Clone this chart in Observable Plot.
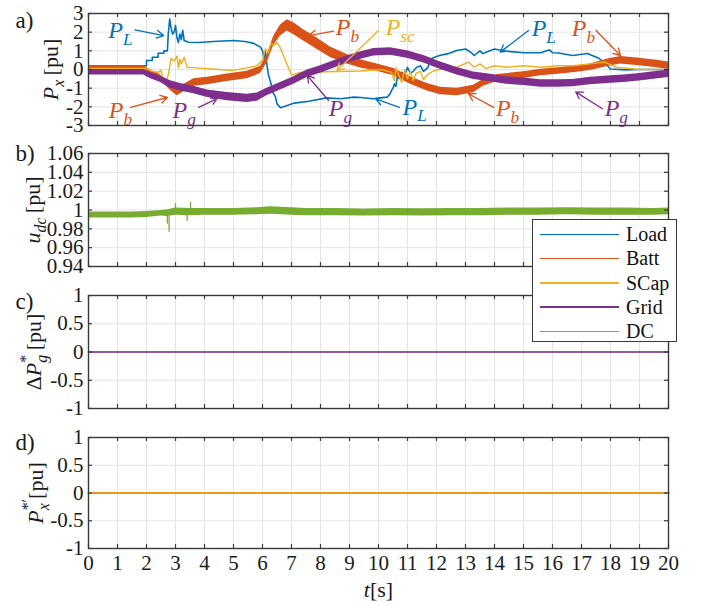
<!DOCTYPE html>
<html>
<head>
<meta charset="utf-8">
<script src="https://cdn.jsdelivr.net/npm/d3@7"></script>
<script src="https://cdn.jsdelivr.net/npm/@observablehq/plot@0.6"></script>
<style>
  html, body { margin: 0; padding: 0; background: #fff; }
  #fig { position: relative; width: 706px; height: 605px; background: #fff; overflow: hidden;
         font-family: "Liberation Serif", "Times New Roman", Tinos, "DejaVu Serif", serif; }
  #fig svg { position: absolute; left: 0; overflow: visible; }
  #fig svg text, #fig svg tspan { font-family: "Liberation Serif", "Times New Roman", Tinos, "DejaVu Serif", serif; }
  #legend { position: absolute; left: 532px; top: 219px; width: 145px; height: 123px;
            background: #fff; border: 1px solid #3a3a3a; box-sizing: border-box; padding-top: 2px; z-index: 5; }
  #legend .row { position: relative; height: 24.3px; }
  #legend .sw { position: absolute; left: 7px; top: 11.5px; width: 79px; height: 1.6px; }
  #legend .lb { position: absolute; left: 93px; top: 0; line-height: 24px; font-size: 20px; color: #111; }
</style>
</head>
<body>
<div id="fig"><div id="legend"></div></div>
<script>
// ---- series definitions -------------------------------------------------
const seriesNames = ["Load", "Batt", "SCap", "Grid", "DC"];
const seriesColors = ["#0072BD", "#D95319", "#EDB120", "#7E2F8E", "#77AC30"];
const color = Object.fromEntries(seriesNames.map((n, i) => [n, seriesColors[i]]));

// ---- axis ticks ---------------------------------------------------------
const xTicks = [0, 1, 2, 3, 4, 5, 6, 7, 8, 9, 10, 11, 12, 13, 14, 15, 16, 17, 18, 19, 20];
const yTicksA = [-3, -2, -1, 0, 1, 2, 3];
const yTicksB = [0.94, 0.96, 0.98, 1, 1.02, 1.04, 1.06];
const yTicksC = [-1, -0.5, 0, 0.5, 1];
const yTicksD = [-1, -0.5, 0, 0.5, 1];

// ---- a) powers [pu] -----------------------------------------------------
// load power P_L : [t, value]
const loadPts = [
  [0,0],[1.8,0],[1.8,0.2],[2.0,0.2],[2.0,0.48],[2.2,0.48],[2.2,0.66],[2.4,0.66],[2.4,0.87],
  [2.6,0.87],[2.6,1.0],[2.72,1.0],[2.75,1.9],[2.8,2.7],[2.85,2.2],[2.9,1.9],[2.95,2.0],
  [3.0,2.36],[3.05,1.7],[3.1,1.45],[3.15,1.9],[3.2,1.6],[3.25,2.1],[3.3,1.55],[3.45,1.46],
  [3.8,1.45],[4.3,1.5],[5.0,1.55],[5.4,1.5],[5.7,1.4],[5.93,1.2],[6.0,1.0],[6.05,0.6],
  [6.1,0.95],[6.15,0.3],[6.2,-0.25],[6.3,-0.8],[6.35,-1.2],[6.45,-1.48],[6.5,-1.84],
  [6.62,-2.05],[6.8,-1.95],[7.1,-1.8],[7.6,-1.7],[8.2,-1.52],[8.7,-1.57],[9.15,-1.48],
  [9.4,-1.5],[9.8,-1.57],[10.3,-1.48],[10.4,-1.3],[10.45,-1.12],[10.5,-1.0],[10.55,-0.77],
  [10.6,-0.9],[10.65,-0.4],[10.75,-0.5],[10.8,-0.15],[10.9,-0.3],[11.0,0.12],[11.1,-0.2],
  [11.2,-0.1],[11.3,0.1],[11.45,0.2],[11.55,-0.1],[11.7,0.1],[11.8,0.57],[12.1,0.75],
  [12.4,0.85],[12.7,1.02],[13.0,1.1],[13.2,0.9],[13.3,0.75],[13.5,1.0],[13.6,0.85],
  [13.75,0.95],[14.0,1.1],[14.4,0.98],[15.0,0.9],[15.6,0.9],[15.8,1.0],[15.9,1.05],
  [16.0,0.9],[16.2,0.88],[16.7,0.75],[17.2,0.86],[17.6,0.6],[17.8,0.35],[18.0,0.03],
  [18.5,-0.02],[19.0,0],[20,0]
];
// supercapacitor power P_sc : [t, value]
const scapPts = [
  [0,0.05],[2.0,0.05],[2.2,-0.1],[2.4,-0.15],[2.5,-0.05],[2.6,-0.68],[2.7,-0.5],[2.75,-0.3],
  [2.85,0.6],[2.95,0.45],[3.05,0.72],[3.1,0.1],[3.15,0.55],[3.2,0.3],[3.3,0.66],[3.4,0.12],
  [3.6,0.1],[4.5,0.0],[5.0,-0.05],[5.5,0.1],[5.8,0.2],[6.0,0.5],[6.1,1.1],[6.2,0.9],
  [6.3,1.4],[6.4,1.3],[6.5,1.45],[6.6,1.2],[7.0,-0.3],[7.3,-0.16],[8.2,-0.12],[9.4,-0.08],
  [10.1,0.0],[10.45,-0.15],[10.55,-0.6],[10.6,0.1],[10.7,-0.3],[10.8,-0.7],[10.9,0.0],
  [11.0,-0.5],[11.1,-0.1],[11.2,-0.6],[11.3,-0.2],[11.45,-0.1],[11.55,-0.55],[11.7,-0.25],
  [11.9,-0.08],[12.1,0.0],[12.7,0.12],[13.1,0.4],[13.3,0.12],[13.5,0.3],[13.7,0.05],
  [14.0,0.2],[14.4,0.12],[15.0,0.2],[15.6,0.12],[16.2,0.2],[16.7,0.2],[17.3,0.3],
  [17.8,0.4],[18.2,0.12],[19.0,0.0],[20,0.0]
];
// battery power P_b : [t, centre, half band width of the ripple]
const battPts = [
  [0,0.12,0.1],[1.9,0.12,0.1],[2.14,-0.15,0.12],[2.45,-0.4,0.14],[2.83,-0.95,0.18],
  [3.05,-1.2,0.2],[3.28,-1.0,0.2],[3.63,-0.7,0.2],[4.1,-0.62,0.2],[4.78,-0.44,0.2],
  [5.47,-0.3,0.2],[5.93,-0.02,0.2],[6.15,0.55,0.22],[6.39,1.55,0.25],[6.62,2.09,0.3],
  [6.85,2.36,0.3],[7.08,2.18,0.32],[7.43,1.82,0.3],[7.89,1.37,0.3],[8.34,0.92,0.28],
  [8.92,0.55,0.25],[9.38,0.3,0.22],[9.95,0.1,0.2],[10.53,-0.14,0.2],[11.1,-0.59,0.2],
  [11.68,-0.95,0.2],[12.14,-1.15,0.2],[12.71,-1.2,0.2],[13.28,-1.04,0.2],[13.6,-0.73,0.18],
  [14.1,-0.45,0.18],[15.0,-0.3,0.18],[15.6,-0.16,0.18],[16.2,-0.08,0.18],[16.7,0.0,0.18],
  [17.3,0.12,0.18],[17.9,0.36,0.2],[18.34,0.5,0.2],[19.0,0.4,0.2],[19.6,0.3,0.2],[20,0.2,0.2]
];
// grid power P_g : [t, centre, half band width of the ripple]
const gridPts = [
  [0,-0.15,0.15],[1.9,-0.15,0.15],[2.14,-0.33,0.16],[2.45,-0.5,0.17],[2.83,-0.8,0.2],
  [3.17,-0.95,0.2],[3.63,-1.1,0.2],[4.1,-1.3,0.2],[4.78,-1.45,0.22],[5.47,-1.55,0.22],
  [5.82,-1.48,0.22],[6.15,-1.2,0.2],[6.62,-0.9,0.2],[7.08,-0.59,0.2],[7.54,-0.23,0.2],
  [8.0,0.0,0.2],[8.69,0.4,0.2],[9.26,0.7,0.2],[9.84,0.92,0.2],[10.41,0.96,0.2],
  [10.99,0.8,0.2],[11.56,0.55,0.2],[12.14,0.2,0.2],[12.71,-0.09,0.2],[13.28,-0.33,0.2],
  [13.86,-0.45,0.2],[14.4,-0.59,0.2],[15.0,-0.66,0.2],[15.6,-0.75,0.2],[16.2,-0.75,0.2],
  [16.7,-0.73,0.2],[17.3,-0.62,0.2],[17.9,-0.55,0.2],[18.45,-0.5,0.2],[19.0,-0.41,0.2],
  [20,-0.23,0.2]
];

// ---- b) DC-link voltage [pu] : [t, lower, upper] ripple envelope -------
const dcPts = [
  [0,0.9915,0.998],[1.5,0.9915,0.998],[2.0,0.992,0.9985],[2.5,0.9935,0.9995],[2.7,0.993,1.0],
  [3.0,0.9945,1.002],[3.5,0.994,1.0015],[4.0,0.9945,1.0015],[5.0,0.9945,1.0015],
  [5.8,0.995,1.0025],[6.3,0.9955,1.0035],[7.0,0.9945,1.0025],[7.5,0.994,1.0015],
  [8.5,0.994,1.0015],[9.5,0.9935,1.001],[10.5,0.994,1.0015],[11.5,0.9935,1.0012],
  [12.5,0.994,1.0015],[13.5,0.994,1.0015],[14.5,0.9945,1.002],[15.5,0.9945,1.002],
  [16.5,0.995,1.0025],[17.5,0.9945,1.002],[18.5,0.9945,1.002],[19.5,0.9945,1.0015],[20,0.995,1.002]
];
// isolated voltage spikes : [t, lower, upper]
const dcSpikes = [[2.72,0.985,0.994],[2.78,0.9765,0.994],[3.0,0.998,1.0067],[3.4,0.988,0.995],[3.52,0.998,1.008]];

// ---- c) / d) reference corrections (zero throughout) --------------------
const zeroPts = [[0,0],[20,0]];

// ---- a) annotations: label, series, text position, arrow start -> end ---
const annotations = [
  {label:"P_L",  series:"Load", tx:1.1,  ty:2.1,  x1:1.6,   y1:2.12,  x2:2.59, y2:1.82},
  {label:"P_b",  series:"Batt", tx:1.1,  ty:-2.2, x1:1.45,  y1:-2.03, x2:2.72, y2:-1.5},
  {label:"P_g",  series:"Grid", tx:3.3,  ty:-2.2, x1:3.8,   y1:-2.03, x2:4.43, y2:-1.56},
  {label:"P_b",  series:"Batt", tx:8.93, ty:2.25, x1:8.45,  y1:2.05,  x2:7.6,  y2:1.82},
  {label:"P_sc", series:"SCap", tx:10.75,ty:2.25, x1:10.0,  y1:2.09,  x2:8.57, y2:-0.05},
  {label:"P_g",  series:"Grid", tx:8.69, ty:-2.1, x1:8.28,  y1:-1.66, x2:7.54, y2:-0.32},
  {label:"P_L",  series:"Load", tx:11.25,ty:-2.0, x1:10.72, y1:-2.03, x2:9.9,  y2:-1.57},
  {label:"P_L",  series:"Load", tx:15.7, ty:2.2,  x1:15.17, y1:2.09,  x2:14.2, y2:0.93},
  {label:"P_b",  series:"Batt", tx:17.07,ty:2.2,  x1:17.5,  y1:2.09,  x2:18.34,y2:0.75},
  {label:"P_b",  series:"Batt", tx:14.45,ty:-2.1, x1:13.97, y1:-2.03, x2:13.1, y2:-1.3},
  {label:"P_g",  series:"Grid", tx:18.2, ty:-2.1, x1:17.72, y1:-2.1,  x2:16.8, y2:-1.2}
];

// ---- math-style labels (italic symbols, sub/superscripts) ---------------
const RICH = {
  "P_L":  [["P","i"],["L","i sub"]],
  "P_b":  [["P","i"],["b","i sub"]],
  "P_g":  [["P","i"],["g","i sub"]],
  "P_sc": [["P","i"],["sc","i sub"]],
  "P_x [pu]":   [["P","i"],["x","i sub"],["\u2009[pu]",""]],
  "u_dc [pu]":  [["u","i"],["dc","i sub"],["\u2009[pu]",""]],
  "ΔP*_g [pu]": [["Δ",""],["P","i"],["*","sup"],["g","i sub stack"],["\u2009[pu]",""]],
  "P*'_x [pu]": [["P","i"],["*\u2032","sup"],["x","i sub stack"],["\u2009[pu]",""]],
  "t[s]": [["t","i"],["[s]",""]]
};

const SVGNS = "http://www.w3.org/2000/svg";
function richify(root) {
  root.querySelectorAll("text").forEach(el => {
    const spec = RICH[el.textContent];
    if (!spec) return;
    const fs = parseFloat(getComputedStyle(el).fontSize) || 20;
    while (el.firstChild) el.removeChild(el.firstChild);
    let shift = 0, prev = null;
    for (const [str, flags] of spec) {
      const ts = document.createElementNS(SVGNS, "tspan");
      const sub = flags.includes("sub"), sup = flags.includes("sup");
      const target = sub ? 0.28 * fs : sup ? -0.42 * fs : 0;
      if (target !== shift) ts.setAttribute("dy", (target - shift).toFixed(2));
      shift = target;
      if (sub || sup) ts.setAttribute("font-size", (0.72 * fs).toFixed(1));
      ts.setAttribute("font-style", flags.includes("i") ? "italic" : "normal");
      if (flags.includes("stack") && prev) ts.setAttribute("dx", (-prev.getComputedTextLength()).toFixed(2));
      ts.textContent = str;
      el.appendChild(ts);
      prev = ts;
    }
  });
}

// ---- panel builder --------------------------------------------------------
const frameC = "#3a3a3a", gridC = "#e3e3e3", textC = "#1a1a1a";
const innerW = 580;
const fig = document.getElementById("fig");

function panel({top, inner, mb = 5, yDomain, yTicks, marks, ylabel, ylabelDx, letter, letterDy, xLabels = false}) {
  const mt = 13;
  const svg = Plot.plot({
    width: 706, height: mt + inner + mb,
    marginLeft: 88, marginRight: 38, marginTop: mt, marginBottom: mb,
    x: {domain: [0, 20], axis: null},
    y: {domain: yDomain, axis: null},
    style: {fontFamily: "Liberation Serif, Times New Roman, serif", fontSize: "21px", background: "transparent", color: textC},
    marks: [
      Plot.ruleX(xTicks, {x: d => d, stroke: gridC}),
      Plot.ruleY(yTicks, {y: d => d, stroke: gridC}),
      ...marks,
      Plot.ruleX(xTicks, {x: d => d, insetTop: inner - 4, stroke: frameC, strokeWidth: 1.2}),
      Plot.ruleX(xTicks, {x: d => d, insetBottom: inner - 4, stroke: frameC, strokeWidth: 1.2}),
      Plot.ruleY(yTicks, {y: d => d, insetRight: innerW - 4, stroke: frameC, strokeWidth: 1.2}),
      Plot.ruleY(yTicks, {y: d => d, insetLeft: innerW - 4, stroke: frameC, strokeWidth: 1.2}),
      Plot.frame({stroke: frameC, strokeWidth: 1.4}),
      Plot.text(yTicks, {y: d => d, frameAnchor: "left", dx: -5, textAnchor: "end", lineAnchor: "middle", text: d => String(d), fill: textC}),
      xLabels ? Plot.text(xTicks, {x: d => d, frameAnchor: "bottom", dy: 15, textAnchor: "middle", lineAnchor: "middle", text: d => String(d), fill: textC}) : null,
      xLabels ? Plot.text(["t[s]"], {frameAnchor: "bottom", dy: 41, textAnchor: "middle", lineAnchor: "middle", text: d => d, fontSize: 22, fill: textC}) : null,
      Plot.text([ylabel], {frameAnchor: "left", dx: ylabelDx, rotate: -90, textAnchor: "middle", lineAnchor: "middle", text: d => d, fontSize: 22, fill: textC}),
      Plot.text([letter], {frameAnchor: "top-left", dx: -73, dy: letterDy, textAnchor: "start", lineAnchor: "top", text: d => d, fontSize: 23, fill: textC})
    ].filter(Boolean)
  });
  svg.style.top = top + "px";
  fig.appendChild(svg);
  richify(svg);
}

const toLine = pts => pts.map(([t, v]) => ({t, v}));
const toBand = pts => pts.map(([t, c, h]) => ({t, lo: c - h, hi: c + h}));

// a) power flows
panel({
  top: 0, inner: 112, yDomain: [-3, 3], yTicks: yTicksA,
  ylabel: "P_x [pu]", ylabelDx: -38, letter: "a)", letterDy: -2,
  marks: [
    Plot.line(toLine(loadPts), {x: "t", y: "v", stroke: color.Load, strokeWidth: 1.6}),
    Plot.areaY(toBand(battPts), {x: "t", y1: "lo", y2: "hi", fill: color.Batt}),
    Plot.line(toLine(scapPts), {x: "t", y: "v", stroke: color.SCap, strokeWidth: 1.4}),
    Plot.areaY(toBand(gridPts), {x: "t", y1: "lo", y2: "hi", fill: color.Grid}),
    Plot.arrow(annotations, {x1: "x1", y1: "y1", x2: "x2", y2: "y2", stroke: d => color[d.series], strokeWidth: 1.3, headLength: 9}),
    Plot.text(annotations, {x: "tx", y: "ty", text: "label", textAnchor: "middle", lineAnchor: "middle", fill: d => color[d.series], fontSize: 24})
  ]
});

// b) DC-link voltage
panel({
  top: 140, inner: 113, yDomain: [0.94, 1.06], yTicks: yTicksB,
  ylabel: "u_dc [pu]", ylabelDx: -56, letter: "b)", letterDy: -9,
  marks: [
    Plot.areaY(dcPts.map(([t, lo, hi]) => ({t, lo, hi})), {x: "t", y1: "lo", y2: "hi", fill: color.DC}),
    Plot.ruleX(dcSpikes.map(([t, lo, hi]) => ({t, lo, hi})), {x: "t", y1: "lo", y2: "hi", stroke: color.DC, strokeWidth: 1.3})
  ]
});

// c) grid power reference correction
panel({
  top: 282, inner: 113, yDomain: [-1, 1], yTicks: yTicksC,
  ylabel: "ΔP*_g [pu]", ylabelDx: -55, letter: "c)", letterDy: -3,
  marks: [
    Plot.line(toLine(zeroPts), {x: "t", y: "v", stroke: color.Grid, strokeWidth: 1.8, strokeOpacity: 0.8})
  ]
});

// d) storage power references
panel({
  top: 424, inner: 111, mb: 57, yDomain: [-1, 1], yTicks: yTicksD,
  ylabel: "P*'_x [pu]", ylabelDx: -53, letter: "d)", letterDy: -4, xLabels: true,
  marks: [
    Plot.line(toLine(zeroPts), {x: "t", y: "v", stroke: color.Batt, strokeWidth: 2}),
    Plot.line(toLine(zeroPts), {x: "t", y: "v", stroke: color.SCap, strokeWidth: 2, strokeOpacity: 0.75})
  ]
});

// legend
const legend = document.getElementById("legend");
seriesNames.forEach((n, i) => {
  const row = document.createElement("div");
  row.className = "row";
  row.innerHTML = `<span class="sw" style="background:${seriesColors[i]}"></span><span class="lb">${n}</span>`;
  legend.appendChild(row);
});
</script>
</body>
</html>
